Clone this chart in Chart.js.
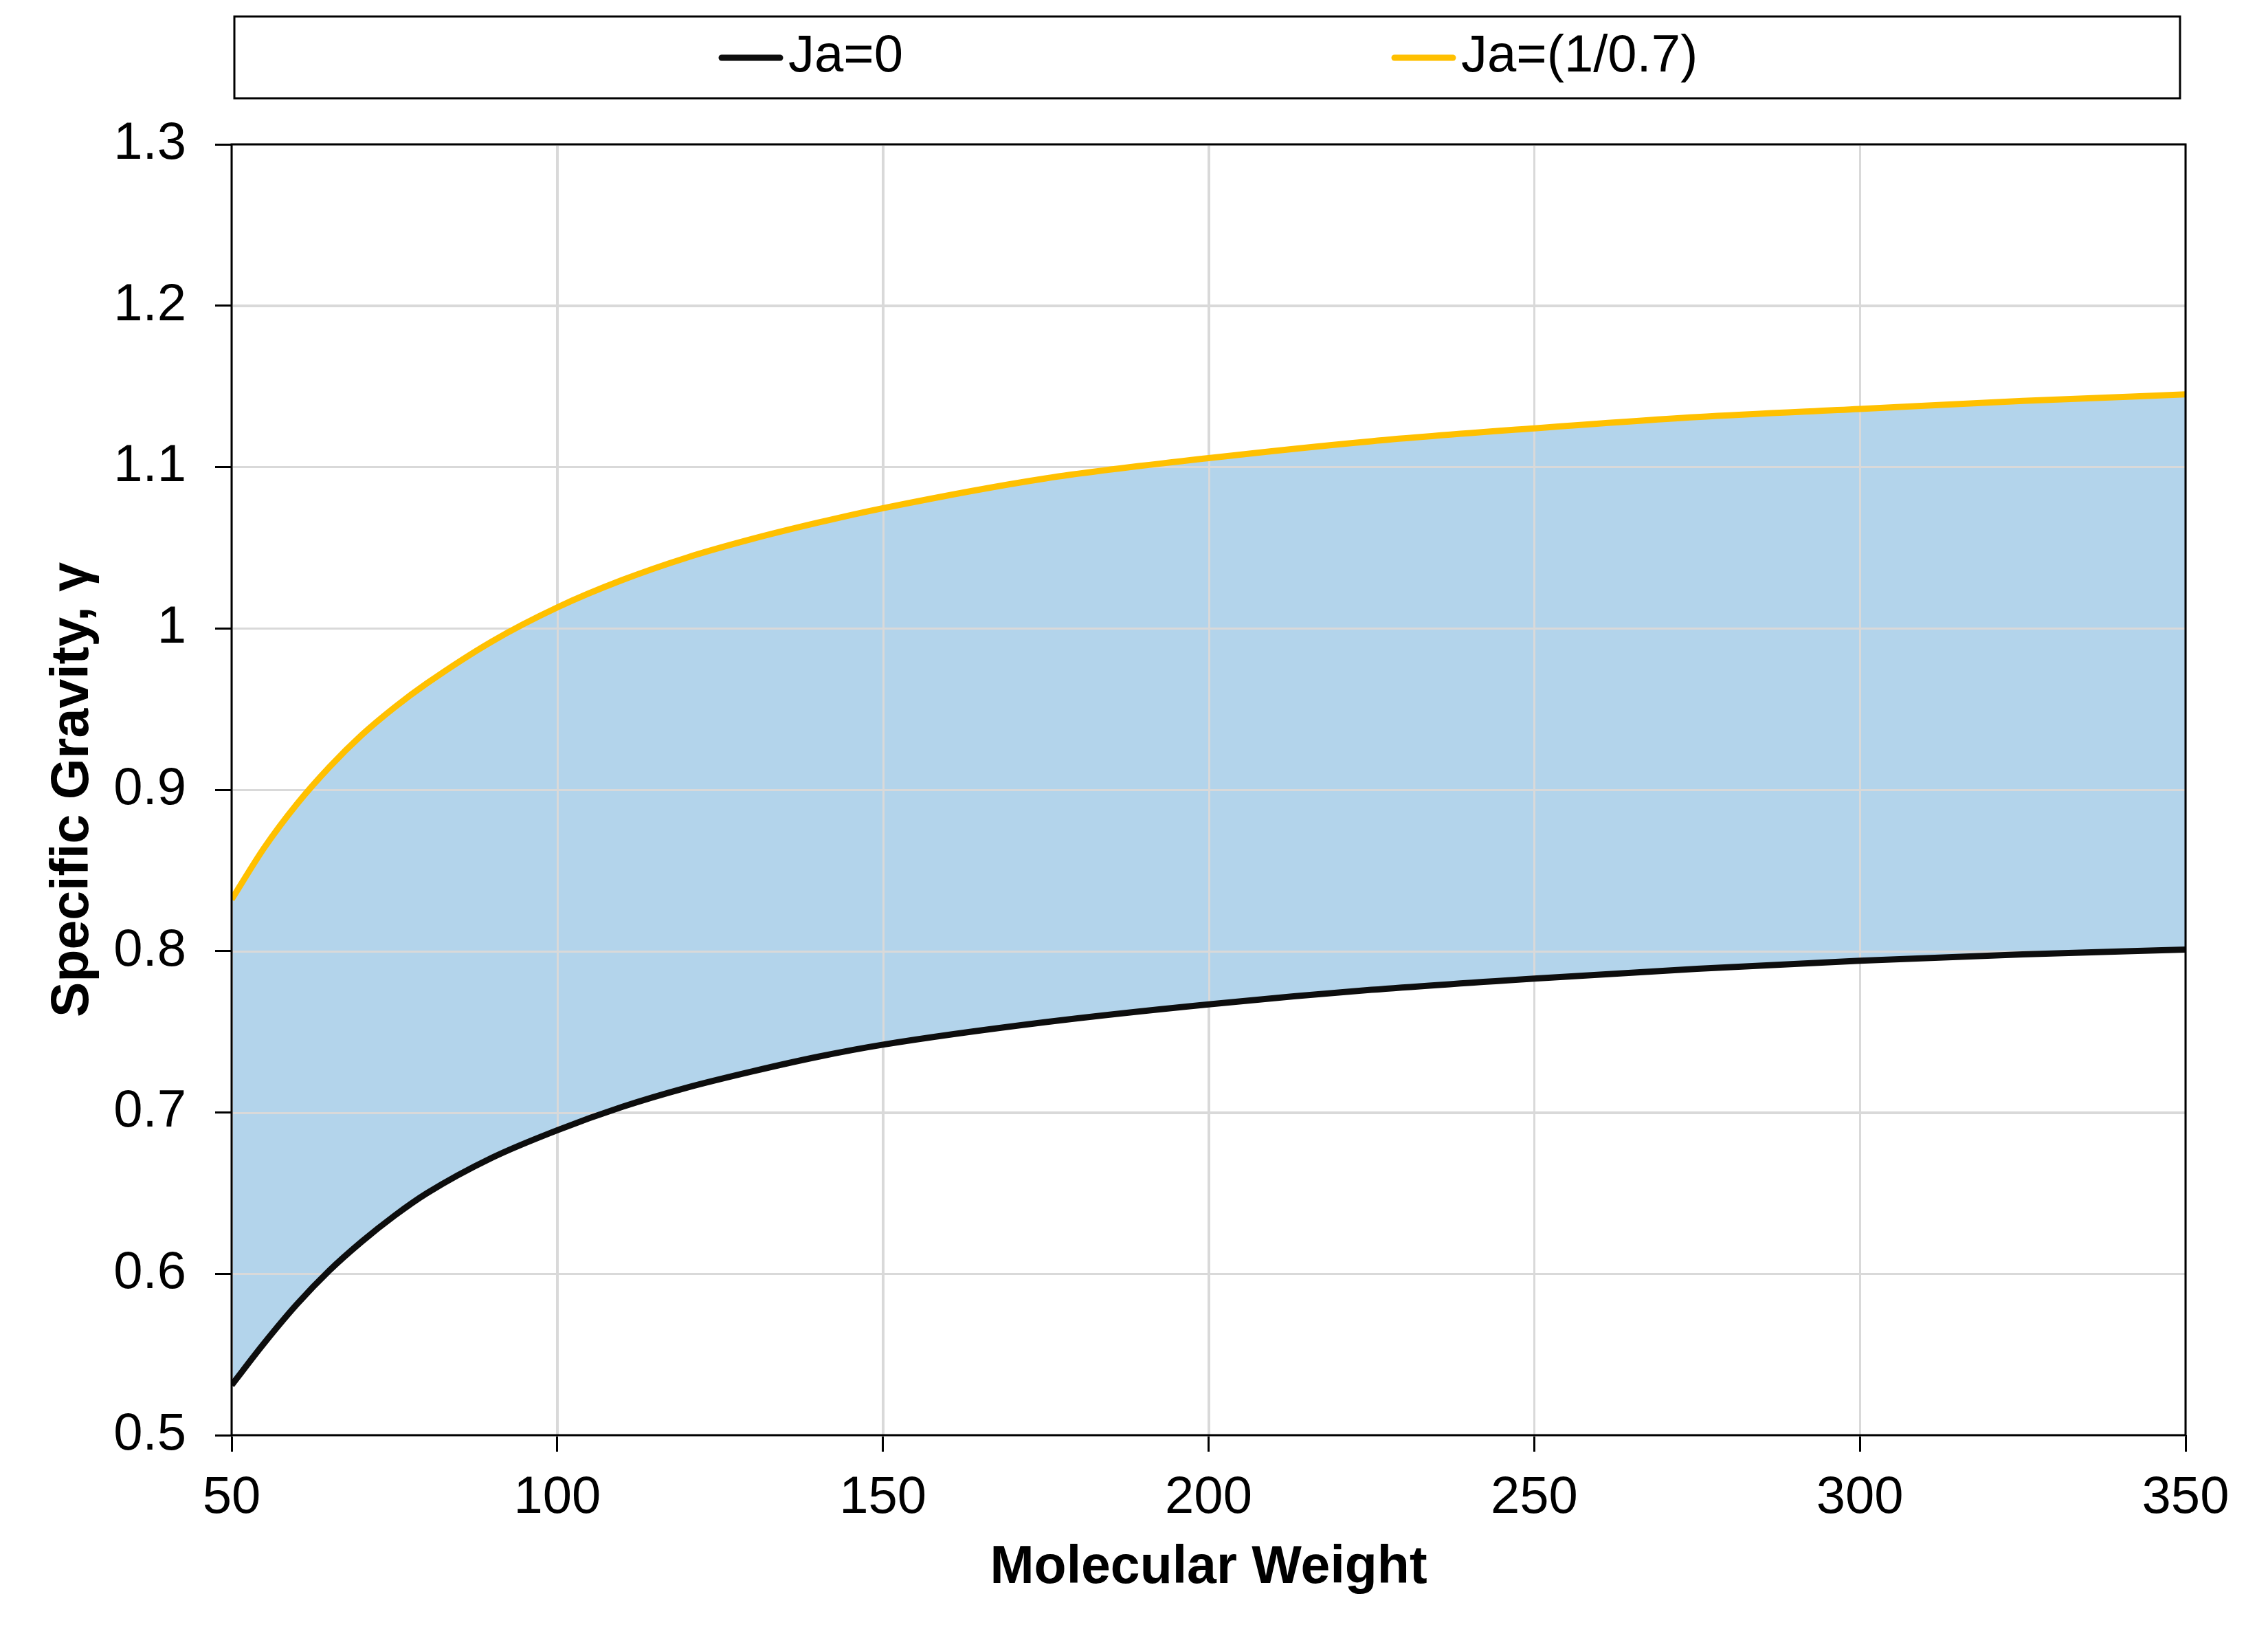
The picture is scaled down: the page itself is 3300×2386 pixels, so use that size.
<!DOCTYPE html>
<html>
<head>
<meta charset="utf-8">
<title>Specific Gravity vs Molecular Weight</title>
<script src="https://cdn.jsdelivr.net/npm/chart.js@4.4.1/dist/chart.umd.min.js"></script>
<style>
    html, body { margin: 0; padding: 0; background: #ffffff; }
    #wrap { width: 3300px; height: 2386px; position: relative; }
</style>
</head>
<body>
<div id="wrap"><canvas id="sgChart"></canvas></div>
<script>
// Valores
const molecularWeight = [50, 55, 60, 65, 70, 75, 80, 90, 100, 110, 120, 130, 140, 150, 175, 200, 225, 250, 275, 300, 325, 350];
const sgJa0 = [0.531, 0.557, 0.581, 0.602, 0.620, 0.636, 0.650, 0.672, 0.689, 0.7035, 0.7155, 0.7255, 0.7345, 0.742, 0.756, 0.767, 0.776, 0.783, 0.789, 0.794, 0.798, 0.801];
const sgJa07 = [0.832, 0.864, 0.891, 0.914, 0.934, 0.951, 0.966, 0.992, 1.013, 1.030, 1.044, 1.0555, 1.0655, 1.0745, 1.093, 1.1055, 1.116, 1.124, 1.131, 1.136, 1.141, 1.145];
const seriesLabels = ['Ja=0', 'Ja=(1/0.7)'];
const xTicks = [50, 100, 150, 200, 250, 300, 350];
const yTicks = [0.5, 0.6, 0.7, 0.8, 0.9, 1.0, 1.1, 1.2, 1.3];

const FONT = "'Liberation Sans', Arial, sans-serif";
const GRID_COLOR = '#d9d9d9';

function toPoints(ys) {
    return molecularWeight.map((x, i) => ({ x: x, y: ys[i] }));
}

// Linhas de grade por cima do preenchimento (como no Excel)
const gridOverFill = {
    id: 'gridOverFill',
    beforeDatasetDraw(chart, args) {
        if (args.index !== 1) return;
        const ctx = chart.ctx;
        const a = chart.chartArea;
        const xs = chart.scales.x;
        const ys = chart.scales.y;
        ctx.save();
        ctx.strokeStyle = GRID_COLOR;
        ctx.lineWidth = 3;
        ctx.beginPath();
        xTicks.forEach(v => {
            const px = Math.round(xs.getPixelForValue(v)) + 0.5;
            ctx.moveTo(px, a.top);
            ctx.lineTo(px, a.bottom);
        });
        yTicks.forEach(v => {
            const py = Math.round(ys.getPixelForValue(v)) + 0.5;
            ctx.moveTo(a.left, py);
            ctx.lineTo(a.right, py);
        });
        ctx.stroke();
        ctx.restore();
    }
};

// Moldura da área do gráfico e legenda em caixa
const frameAndLegend = {
    id: 'frameAndLegend',
    afterDraw(chart) {
        const ctx = chart.ctx;
        const a = chart.chartArea;
        ctx.save();
        ctx.strokeStyle = '#000000';
        ctx.lineWidth = 3;
        ctx.strokeRect(a.left, a.top, a.right - a.left, a.bottom - a.top);

        // caixa da legenda
        ctx.strokeRect(341, 24, 3172 - 341, 143 - 24);

        const starts = [1046, 2025];
        const midY = 83;
        chart.data.datasets.forEach((ds, i) => {
            const x0 = starts[i];
            ctx.strokeStyle = ds.borderColor;
            ctx.lineWidth = 9;
            ctx.lineCap = 'round';
            ctx.beginPath();
            ctx.moveTo(x0 + 4, midY + 1);
            ctx.lineTo(x0 + 89, midY + 1);
            ctx.stroke();
            ctx.fillStyle = '#000000';
            ctx.font = '76px ' + FONT;
            ctx.textAlign = 'left';
            ctx.textBaseline = 'middle';
            ctx.fillText(ds.label, x0 + 101, midY);
        });
        ctx.restore();
    }
};

const ctx = document.getElementById('sgChart').getContext('2d');
window.sgChart = new Chart(ctx, {
    type: 'line',
    data: {
        datasets: [
            {
                label: seriesLabels[0],
                data: toPoints(sgJa0),
                borderColor: '#0d0d0d',
                borderWidth: 9,
                pointRadius: 0,
                cubicInterpolationMode: 'monotone',
                fill: false
            },
            {
                label: seriesLabels[1],
                data: toPoints(sgJa07),
                borderColor: '#ffc000',
                backgroundColor: 'rgb(179, 212, 235)',
                borderWidth: 9,
                pointRadius: 0,
                cubicInterpolationMode: 'monotone',
                fill: '-1'
            }
        ]
    },
    options: {
        responsive: true,
        maintainAspectRatio: false,
        animation: false,
        devicePixelRatio: 1,
        layout: {
            padding: { top: 210, right: 120, left: 0, bottom: 0 }
        },
        plugins: {
            legend: { display: false },
            tooltip: { enabled: false }
        },
        scales: {
            x: {
                type: 'linear',
                min: 50,
                max: 350,
                afterBuildTicks: function(scale) {
                    scale.ticks = xTicks.map(v => ({ value: v }));
                },
                afterFit: function(scale) {
                    scale.height = 298;
                },
                ticks: {
                    color: '#000000',
                    font: { family: FONT, size: 76 },
                    padding: 22,
                    maxRotation: 0,
                    callback: function(value) { return String(value); }
                },
                grid: {
                    color: GRID_COLOR,
                    lineWidth: 3,
                    drawTicks: true,
                    tickLength: 24,
                    tickColor: '#000000',
                    tickWidth: 3
                },
                border: { display: true, color: '#000000', width: 3 },
                title: {
                    display: true,
                    text: 'Molecular Weight',
                    color: '#000000',
                    font: { family: FONT, size: 77, weight: 'bold' },
                    padding: { top: 0, bottom: 58 }
                }
            },
            y: {
                type: 'linear',
                min: 0.5,
                max: 1.3,
                afterBuildTicks: function(scale) {
                    scale.ticks = yTicks.map(v => ({ value: v }));
                },
                afterFit: function(scale) {
                    scale.width = 337;
                },
                ticks: {
                    color: '#000000',
                    font: { family: FONT, size: 76 },
                    padding: 42,
                    callback: function(value) { return String(+value.toFixed(1)); }
                },
                grid: {
                    color: GRID_COLOR,
                    lineWidth: 3,
                    drawTicks: true,
                    tickLength: 24,
                    tickColor: '#000000',
                    tickWidth: 3
                },
                border: { display: true, color: '#000000', width: 3 },
                title: {
                    display: true,
                    text: 'Specific Gravity, γ',
                    color: '#000000',
                    font: { family: FONT, size: 77, weight: 'bold' },
                    padding: { top: 61, bottom: 0 }
                }
            }
        }
    },
    plugins: [gridOverFill, frameAndLegend]
});
</script>
</body>
</html>
